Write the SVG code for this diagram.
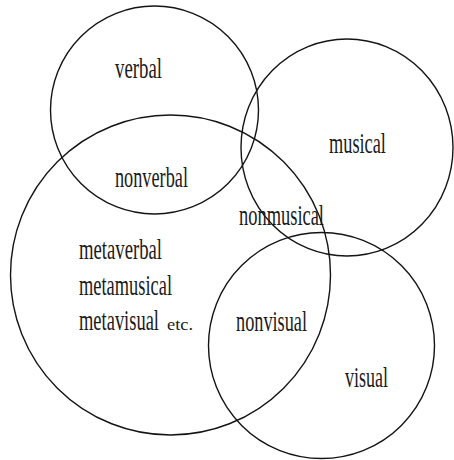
<svg xmlns="http://www.w3.org/2000/svg" width="454" height="460" viewBox="0 0 454 460">
<style>
.ring{fill:none;stroke:#141414;stroke-width:1.4}
.lbl{font-family:"Liberation Serif","Times New Roman",serif;font-size:29px;fill:#1a1a1a}
.sm{font-family:"Liberation Serif","Times New Roman",serif;font-size:17px;fill:#1a1a1a}
</style>
<rect width="454" height="460" fill="#ffffff"/>
<g id="set-verbal">
<circle class="ring" cx="154.5" cy="110" r="104"/>
<text class="lbl" transform="translate(115,78) scale(0.64,1)" textLength="73.4" lengthAdjust="spacingAndGlyphs">verbal</text>
</g>
<g id="set-musical">
<ellipse class="ring" cx="347" cy="147.5" rx="106" ry="108.5"/>
<text class="lbl" transform="translate(329,153) scale(0.64,1)" textLength="89" lengthAdjust="spacingAndGlyphs">musical</text>
</g>
<g id="set-meta">
<circle class="ring" cx="170.5" cy="275" r="160"/>
<text class="lbl" transform="translate(115,187) scale(0.64,1)" textLength="114" lengthAdjust="spacingAndGlyphs">nonverbal</text>
<text class="lbl" transform="translate(239,225) scale(0.64,1)" textLength="132.8" lengthAdjust="spacingAndGlyphs">nonmusical</text>
<text class="lbl" transform="translate(79,259) scale(0.64,1)" textLength="129.7" lengthAdjust="spacingAndGlyphs">metaverbal</text>
<text class="lbl" transform="translate(79,295) scale(0.64,1)" textLength="145.3" lengthAdjust="spacingAndGlyphs">metamusical</text>
<text class="lbl" transform="translate(79,330) scale(0.64,1)" textLength="125" lengthAdjust="spacingAndGlyphs">metavisual</text>
<text class="sm" x="167" y="330" textLength="26" lengthAdjust="spacingAndGlyphs">etc.</text>
<text class="lbl" transform="translate(236,331) scale(0.64,1)" textLength="111" lengthAdjust="spacingAndGlyphs">nonvisual</text>
</g>
<g id="set-visual">
<circle class="ring" cx="321.5" cy="345.5" r="113"/>
<text class="lbl" transform="translate(345,387) scale(0.64,1)" textLength="67.2" lengthAdjust="spacingAndGlyphs">visual</text>
</g>
<g id="connectors"></g>
</svg>
